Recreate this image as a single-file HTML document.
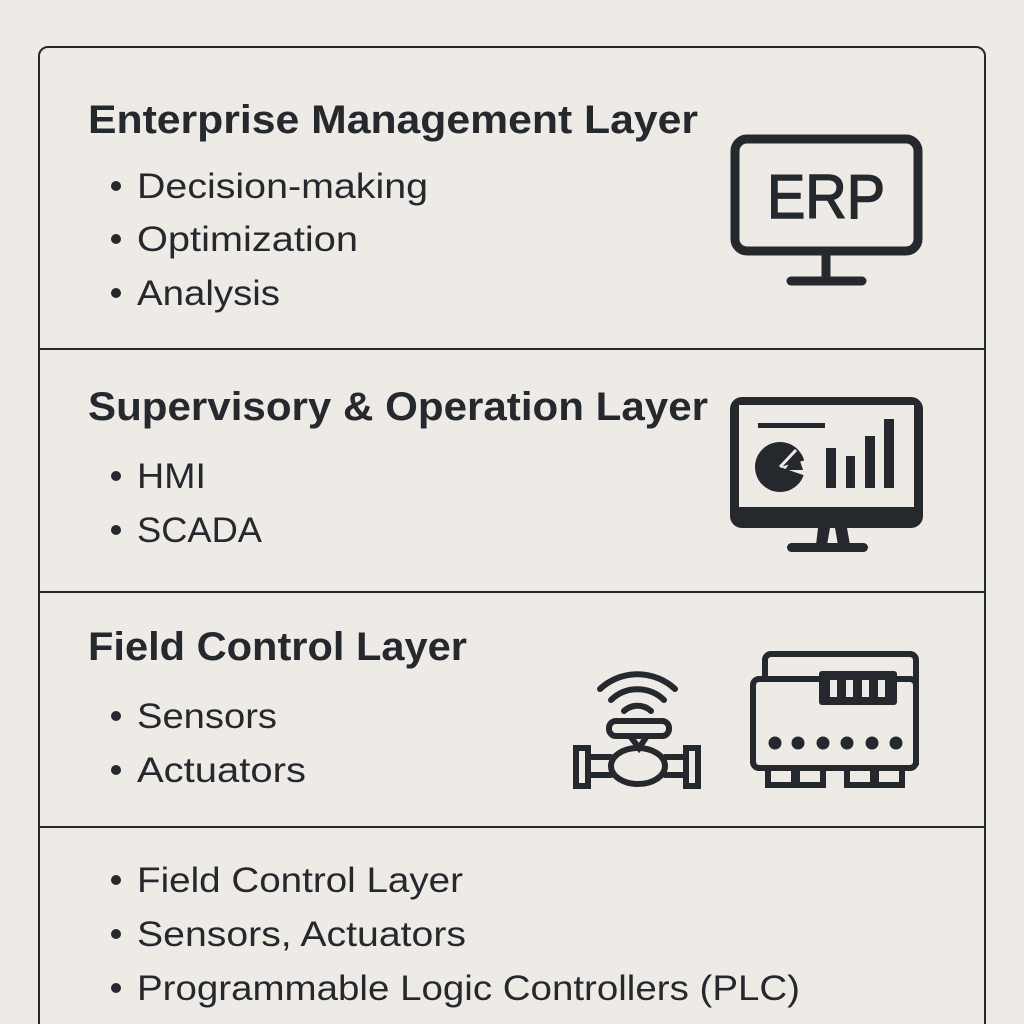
<!DOCTYPE html>
<html><head><meta charset="utf-8"><style>
html,body{margin:0;padding:0;background:#eeeae6;}
svg{display:block}
text{font-family:"Liberation Sans",sans-serif;fill:#25292d}
.t{font-weight:bold;font-size:40px}
.b{font-size:35px}
</style></head><body>
<svg width="1024" height="1024" viewBox="0 0 1024 1024">
<rect width="1024" height="1024" fill="#eeeae6"/>
<rect x="39" y="47" width="946" height="1000" rx="9" fill="none" stroke="#25292d" stroke-width="2"/>
<g stroke="#25292d" stroke-width="2">
<line x1="39" y1="349" x2="985" y2="349"/>
<line x1="39" y1="592" x2="985" y2="592"/>
<line x1="39" y1="827" x2="985" y2="827"/>
</g>
<text class="t" x="88" y="133" textLength="610" lengthAdjust="spacingAndGlyphs">Enterprise Management Layer</text>
<text class="t" x="88" y="420" textLength="620" lengthAdjust="spacingAndGlyphs">Supervisory &amp; Operation Layer</text>
<text class="t" x="88" y="660" textLength="379" lengthAdjust="spacingAndGlyphs">Field Control Layer</text>
<g fill="#25292d">
<circle cx="116" cy="186" r="5"/><circle cx="116" cy="239" r="5"/><circle cx="116" cy="293" r="5"/>
<circle cx="116" cy="476" r="5"/><circle cx="116" cy="530" r="5"/>
<circle cx="116" cy="716" r="5"/><circle cx="116" cy="770" r="5"/>
<circle cx="116" cy="880" r="5"/><circle cx="116" cy="934" r="5"/><circle cx="116" cy="988" r="5"/>
</g>
<text class="b" x="137" y="198" textLength="291" lengthAdjust="spacingAndGlyphs">Decision-making</text>
<text class="b" x="137" y="251" textLength="221" lengthAdjust="spacingAndGlyphs">Optimization</text>
<text class="b" x="137" y="305" textLength="143" lengthAdjust="spacingAndGlyphs">Analysis</text>
<text class="b" x="137" y="488" textLength="69" lengthAdjust="spacingAndGlyphs">HMI</text>
<text class="b" x="137" y="542" textLength="125" lengthAdjust="spacingAndGlyphs">SCADA</text>
<text class="b" x="137" y="728" textLength="140" lengthAdjust="spacingAndGlyphs">Sensors</text>
<text class="b" x="137" y="782" textLength="169" lengthAdjust="spacingAndGlyphs">Actuators</text>
<text class="b" x="137" y="892" textLength="326" lengthAdjust="spacingAndGlyphs">Field Control Layer</text>
<text class="b" x="137" y="946" textLength="329" lengthAdjust="spacingAndGlyphs">Sensors, Actuators</text>
<text class="b" x="137" y="1000" textLength="663" lengthAdjust="spacingAndGlyphs">Programmable Logic Controllers (PLC)</text>

<!-- ERP monitor -->
<g stroke="#25292d" fill="none" stroke-width="9">
<rect x="735" y="139" width="183" height="112" rx="12"/>
<line x1="826" y1="251" x2="826" y2="281"/>
<line x1="791" y1="281" x2="862" y2="281" stroke-linecap="round"/>
</g>
<text x="767" y="218" font-size="62" stroke="#25292d" stroke-width="1.5" textLength="118" lengthAdjust="spacingAndGlyphs">ERP</text>

<!-- SCADA monitor -->
<g fill="#25292d">
<path d="M742 397 H911 A12 12 0 0 1 923 409 V516 A12 12 0 0 1 911 528 H742 A12 12 0 0 1 730 516 V409 A12 12 0 0 1 742 397 Z M739 405 V507 H914 V405 Z" fill-rule="evenodd"/>
<polygon points="818,528 830,528 827,545 816,545"/>
<polygon points="835,528 847,528 850,545 838,545"/>
<rect x="787" y="543" width="81" height="9" rx="4.5"/>
<rect x="758" y="423" width="67" height="5"/>
<circle cx="780" cy="467" r="25"/>
</g>
<path d="M780 467 L806 460 L806 476 Z" fill="#eeeae6"/>
<polygon points="785,470 797,452 803,470" fill="#25292d"/>
<path d="M780 467 L796 450" stroke="#eeeae6" stroke-width="3"/>
<g fill="#25292d">
<rect x="826" y="448" width="10" height="40"/>
<rect x="846" y="456" width="9" height="32"/>
<rect x="865" y="436" width="10" height="52"/>
<rect x="884" y="419" width="10" height="69"/>
</g>

<!-- valve -->
<g stroke="#25292d" fill="none" stroke-width="6" stroke-linecap="round">
<path d="M600 689 A55 55 0 0 1 675 689"/>
<path d="M611 700 A38 38 0 0 1 664 700"/>
<path d="M624 711 A20 20 0 0 1 651 711"/>
<rect x="609" y="721" width="60" height="15" rx="7"/>
<path d="M630 736 L639 748 L647 736"/>
<ellipse cx="638" cy="766" rx="27" ry="18"/>
<path d="M588 757 H611 M588 775 H611 M665 757 H686 M665 775 H686"/>
<rect x="576" y="748" width="12" height="38"/>
<rect x="686" y="748" width="12" height="38"/>
</g>

<!-- PLC -->
<g stroke="#25292d" fill="none" stroke-width="6">
<path d="M765 681 V660 A6 6 0 0 1 771 654 H910 A6 6 0 0 1 916 660 V765"/>
<rect x="753" y="679" width="163" height="89" rx="6"/>
<rect x="768" y="768" width="26" height="17"/>
<rect x="797" y="768" width="26" height="17"/>
<rect x="847" y="768" width="26" height="17"/>
<rect x="876" y="768" width="26" height="17"/>
</g>
<g fill="#25292d">
<rect x="819" y="671" width="78" height="34" rx="3"/>
<circle cx="775" cy="743" r="6.5"/><circle cx="798" cy="743" r="6.5"/><circle cx="823" cy="743" r="6.5"/>
<circle cx="847" cy="743" r="6.5"/><circle cx="872" cy="743" r="6.5"/><circle cx="896" cy="743" r="6.5"/>
</g>
<g fill="#eeeae6">
<rect x="830" y="680" width="7" height="17"/><rect x="846" y="680" width="7" height="17"/>
<rect x="862" y="680" width="7" height="17"/><rect x="878" y="680" width="7" height="17"/>
</g>
</svg>
</body></html>
